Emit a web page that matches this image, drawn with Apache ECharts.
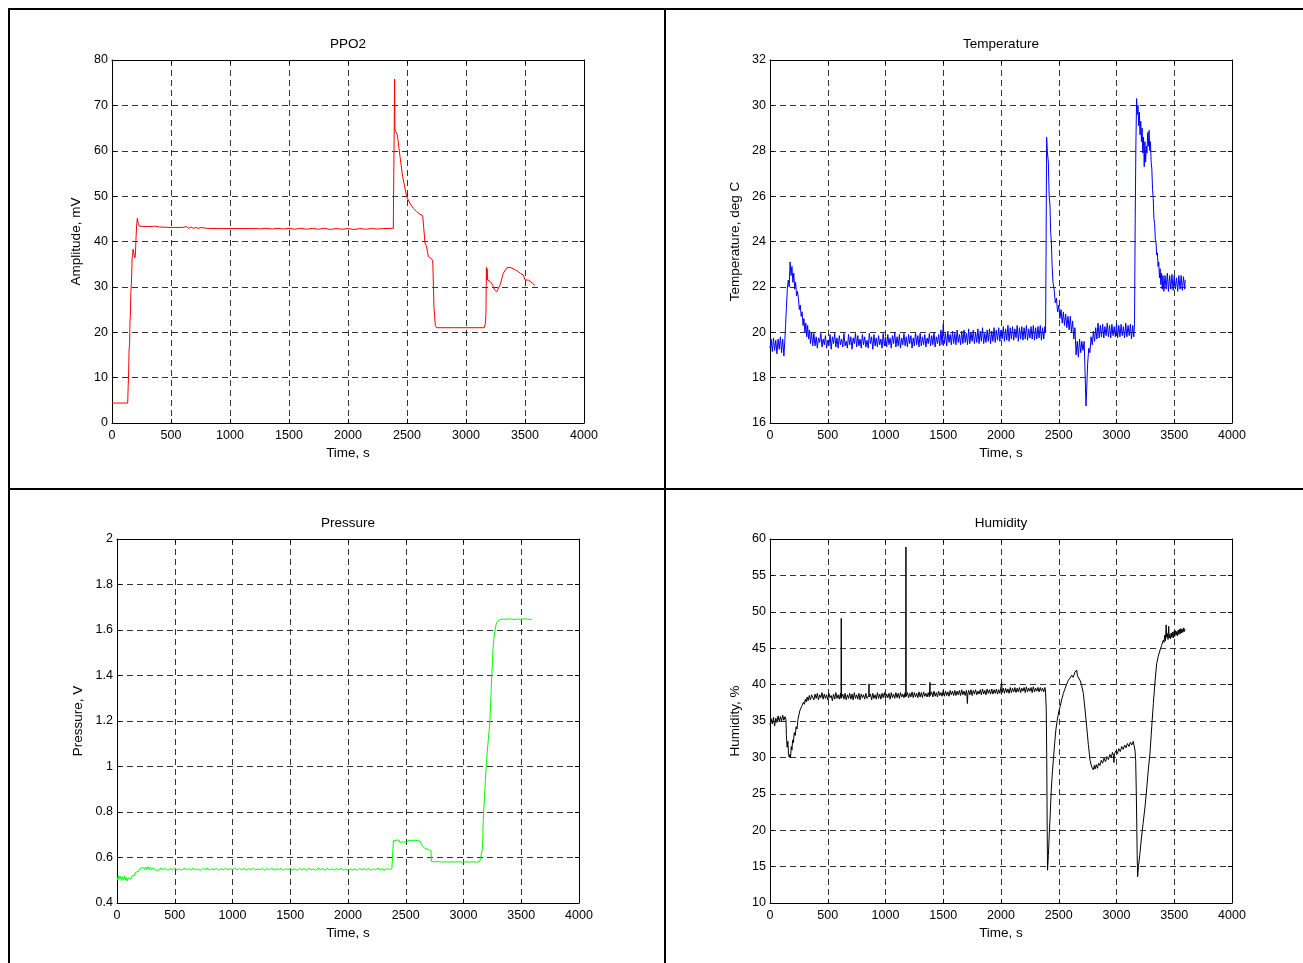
<!DOCTYPE html>
<html>
<head>
<meta charset="utf-8">
<script src="https://cdn.jsdelivr.net/npm/echarts@6/dist/echarts.min.js"></script>
<style>
html,body{margin:0;padding:0;background:#fff;}
#chart{width:1303px;height:963px;}
</style>
</head>
<body>
<div id="chart"></div>
<script>
// ---------- DATA (time in s, value) ----------
const ppo2Data = [
[0,4.4],[60,4.4],[133,4.4],[137,8],[141,11],[145,16.5],[149,17],[152,22],[156,24],[160,29],[164,30.5],[167,33],[171,36.5],[175,37],[178,38.3],[183,38.0],[188,37],[194,36.4],[198,37],[204,41],[210,44],[215,45.1],[222,44.0],[232,43.4],[260,43.3],[300,43.3],[340,43.3],[345,43.6],[350,43.1],[360,43.4],[400,43.2],[500,43.1],[600,43.1],[630,43.3],[650,42.9],[670,43.2],[690,42.9],[710,43.1],[730,42.9],[760,43.1],[800,42.9],[900,42.85],[1000,42.85],[1200,42.85],[1260,42.8],[1300,42.9],[1360,42.75],[1400,42.9],[1450,42.75],[1500,42.9],[1550,42.7],[1600,42.9],[1650,42.7],[1700,42.9],[1750,42.7],[1800,42.9],[1850,42.65],[1900,42.85],[1950,42.7],[2000,42.85],[2050,42.65],[2100,42.85],[2150,42.7],[2200,42.85],[2250,42.75],[2300,42.85],[2384,42.9],[2388,55.0],[2392,66.0],[2395,75.8],[2398,64.6],[2418,63.5],[2441,58.7],[2463,54.3],[2497,49.9],[2525,48.4],[2555,47.3],[2582,46.6],[2610,46.0],[2633,45.7],[2653,39.6],[2665,39.0],[2681,36.7],[2718,35.9],[2729,25.3],[2740,21.5],[2751,21.0],[2900,21.0],[3155,21.0],[3165,22.0],[3169,24.2],[3173,34.3],[3176,31.5],[3179,34.0],[3184,31.5],[3195,31.8],[3209,31.1],[3226,30.4],[3243,29.3],[3260,28.9],[3275,29.2],[3290,30.5],[3316,33.0],[3345,34.2],[3373,34.3],[3400,34.0],[3429,33.6],[3460,33.0],[3486,32.6],[3500,31.5],[3510,31.8],[3528,31.5],[3560,30.9],[3585,30.3]
];

const temperatureData = [
[0,19.3],[10,19.7],[20,19.15],[30,19.75],[40,19.2],[50,19.65],[60,19.05],[70,19.7],[80,19.25],[90,19.8],[100,19.1],[110,19.7],[120,18.95],[128,19.6],
[135,20.3],[142,21.1],[150,21.9],[158,22.3],[166,22.0],[174,23.1],[182,22.5],[190,22.9],[198,22.2],[206,22.6],[214,21.9],[222,22.2],[230,21.6],[238,21.8],[246,21.5],[254,21.0],[262,21.2],[270,20.7],[278,20.9],[286,20.3],[294,20.6],[302,20.0],[310,20.4],[318,19.8],[326,20.3],[334,19.7],[342,20.1],[350,19.5],[360,20.0],[370,19.4],
[380,19.95],[390,19.4],[400,19.8],[410,19.3],[420,19.75],[430,19.55],[440,19.95],[450,19.35],[460,19.7],[470,19.45],
[480,19.85],[490,19.3],[500,19.65],[510,19.4],[520,19.9],[530,19.25],[540,19.8],[550,19.5],[560,19.95],[570,19.35],
[580,19.75],[590,19.3],[600,19.85],[610,19.45],[620,19.7],[630,19.35],[640,19.95],[650,19.4],[660,19.6],[670,19.3],
[680,19.9],[690,19.45],[700,19.8],[710,19.25],[720,19.75],[730,19.5],[740,19.95],[750,19.35],[760,19.85],[770,19.4],
[780,19.7],[790,19.3],[800,19.9],[810,19.45],[820,19.8],[830,19.35],[840,19.65],[850,19.3],[860,19.95],[870,19.5],
[880,19.8],[890,19.25],[900,19.9],[910,19.4],[920,19.75],[930,19.35],[940,19.85],[950,19.45],[960,19.7],[970,19.3],
[980,19.95],[990,19.4],[1000,19.8],[1010,19.35],[1020,19.9],[1030,19.45],[1040,19.75],[1050,19.3],[1060,19.85],[1070,19.5],
[1080,20.0],[1090,19.35],[1100,19.8],[1110,19.4],[1120,19.9],[1130,19.3],[1140,19.75],[1150,19.45],[1160,19.95],[1170,19.4],
[1180,19.8],[1190,19.35],[1200,19.9],[1210,19.5],[1220,19.85],[1230,19.3],[1240,19.75],[1250,19.4],[1260,20.0],[1270,19.45],
[1280,19.85],[1290,19.35],[1300,19.95],[1310,19.4],[1320,19.8],[1330,19.45],[1340,19.9],[1350,19.35],[1360,19.75],[1370,19.5],
[1380,19.95],[1390,19.4],[1400,19.85],[1410,19.45],[1420,20.0],[1430,19.35],[1440,19.8],[1450,19.5],[1460,19.9],[1470,19.4],
[1480,20.1],[1490,19.45],[1500,20.35],[1510,19.5],[1520,19.95],[1530,19.4],[1540,20.05],[1550,19.55],[1560,19.9],[1570,19.45],
[1580,20.05],[1590,19.5],[1600,19.95],[1610,19.45],[1620,20.1],[1630,19.55],[1640,19.9],[1650,19.45],[1660,20.05],[1670,19.5],
[1680,20.1],[1690,19.55],[1700,19.95],[1710,19.45],[1720,20.15],[1730,19.5],[1740,20.0],[1750,19.6],[1760,20.1],[1770,19.5],
[1780,20.0],[1790,19.55],[1800,20.15],[1810,19.5],[1820,20.05],[1830,19.6],[1840,20.2],[1850,19.5],[1860,19.95],[1870,19.55],
[1880,20.1],[1890,19.6],[1900,20.15],[1910,19.5],[1920,20.05],[1930,19.6],[1940,20.2],[1950,19.55],[1960,20.1],[1970,19.65],
[1980,20.2],[1990,19.6],[2000,20.1],[2010,19.7],[2020,20.25],[2030,19.6],[2040,20.15],[2050,19.65],[2060,20.3],[2070,19.6],
[2080,20.2],[2090,19.7],[2100,20.25],[2110,19.65],[2120,20.15],[2130,19.75],[2140,20.3],[2150,19.6],[2160,20.2],[2170,19.7],
[2180,20.25],[2190,19.65],[2200,20.2],[2210,19.7],[2220,20.3],[2230,19.65],[2240,20.15],[2250,19.75],[2260,20.25],[2270,19.7],
[2280,20.3],[2290,19.65],[2300,20.2],[2310,19.7],[2320,20.25],[2330,19.75],[2340,20.3],[2350,19.65],[2360,20.2],[2370,19.7],[2380,20.25],
[2386,20.0],[2390,23.3],[2395,28.6],[2402,27.9],[2410,27.5],[2417,26.0],[2424,25.6],[2430,24.4],[2436,24.0],[2442,23.0],[2450,22.2],[2460,21.9],[2470,21.3],[2480,21.5],[2490,20.9],[2500,21.2],[2510,20.6],[2520,21.0],[2530,20.4],[2540,20.9],[2550,20.3],[2560,20.8],[2570,20.2],[2580,20.7],[2590,20.1],[2600,20.7],[2610,20.0],[2620,20.5],[2630,19.7],[2640,20.2],[2650,19.0],[2660,19.6],[2670,18.9],[2680,19.7],[2690,19.1],[2700,19.6],[2710,19.2],[2720,19.6],[2728,18.2],[2736,16.75],[2742,17.5],[2750,18.6],[2760,19.3],[2770,19.1],
[2780,19.8],[2790,19.45],[2800,20.05],[2810,19.6],[2820,20.2],[2830,19.7],[2840,20.4],[2850,19.75],[2860,20.3],[2870,19.8],[2880,20.35],[2890,19.75],[2900,20.25],[2910,19.85],[2920,20.4],[2930,19.8],[2940,20.3],[2950,19.75],[2960,20.35],[2970,19.85],[2980,20.25],[2990,19.8],[3000,20.4],[3010,19.75],[3020,20.3],[3030,19.8],[3040,20.35],[3050,19.85],[3060,20.25],[3070,19.75],[3080,20.4],[3090,19.8],[3100,20.3],[3110,19.85],[3120,20.35],[3130,19.7],[3140,20.3],[3150,19.8],[3156,20.4],
[3162,25.0],[3168,28.3],[3174,30.3],[3180,29.6],[3186,30.0],[3192,29.1],[3198,29.7],[3204,28.7],[3210,29.3],[3216,28.4],[3222,29.0],[3228,27.9],[3234,28.6],[3240,27.3],[3246,28.4],[3252,27.5],[3258,28.2],[3264,27.9],[3270,28.8],[3276,28.2],[3282,28.9],[3288,28.0],[3294,28.4],[3300,27.5],[3306,27.2],[3312,26.3],[3318,25.9],[3324,25.0],[3330,24.8],[3336,24.1],[3342,24.0],[3348,23.4],[3354,23.5],[3360,22.9],[3366,23.1],[3372,22.4],[3378,22.8],[3384,22.1],[3390,22.6],[3396,21.9],[3402,22.5],[3410,21.8],[3420,22.5],[3430,21.9],[3440,22.6],[3450,21.8],[3460,22.5],[3470,21.9],[3480,22.55],[3490,21.85],[3500,22.5],[3510,21.9],[3520,22.4],[3530,21.8],[3540,22.5],[3550,21.9],[3560,22.5],[3570,21.85],[3580,22.45],[3590,21.9],[3595,22.3]
];

const pressureData = [
[0,0.515],[8,0.50],[16,0.52],[24,0.505],[32,0.518],[40,0.498],[48,0.515],[56,0.503],[64,0.52],[72,0.50],[80,0.512],[88,0.497],[96,0.51],[104,0.502],[112,0.515],[120,0.505],[128,0.518],[136,0.512],[144,0.525],[152,0.522],[160,0.535],[168,0.532],[176,0.543],[184,0.538],[192,0.548],[200,0.543],[210,0.553],[220,0.546],[230,0.556],[240,0.547],[250,0.558],[260,0.548],[270,0.559],[280,0.547],[290,0.557],[300,0.546],[315,0.555],[330,0.545],[345,0.553],
[360,0.545],[380,0.553],[400,0.547],[420,0.552],[440,0.544],[460,0.551],[480,0.546],[500,0.554],[520,0.545],[540,0.550],[560,0.544],[580,0.553],[600,0.547],[620,0.551],[640,0.545],[660,0.553],[680,0.546],[700,0.550],[720,0.544],[740,0.552],[760,0.547],[780,0.553],[800,0.545],[820,0.551],[840,0.546],[860,0.552],[880,0.544],[900,0.550],[920,0.546],[940,0.553],[960,0.545],[980,0.551],[1000,0.547],[1020,0.554],[1040,0.545],[1060,0.551],[1080,0.546],[1100,0.552],[1120,0.544],[1140,0.551],[1160,0.547],[1180,0.553],[1200,0.545],[1220,0.550],[1240,0.546],[1260,0.552],[1280,0.544],[1300,0.551],[1320,0.546],[1340,0.553],[1360,0.545],[1380,0.550],[1400,0.547],[1420,0.552],[1440,0.544],[1460,0.551],[1480,0.546],[1500,0.553],[1520,0.545],[1540,0.550],[1560,0.544],[1580,0.552],[1600,0.546],[1620,0.551],[1640,0.545],[1660,0.553],[1680,0.546],[1700,0.550],[1720,0.544],[1740,0.552],[1760,0.547],[1780,0.551],[1800,0.545],[1820,0.552],[1840,0.546],[1860,0.550],[1880,0.544],[1900,0.551],[1920,0.546],[1940,0.553],[1960,0.544],[1980,0.549],[2000,0.543],[2020,0.551],[2040,0.545],[2060,0.550],[2080,0.544],[2100,0.552],[2120,0.546],[2140,0.551],[2160,0.545],[2180,0.552],[2200,0.544],[2220,0.550],[2240,0.546],[2260,0.553],[2280,0.545],[2300,0.551],[2320,0.544],[2340,0.552],[2360,0.546],[2380,0.551],[2388,0.55],
[2393,0.675],[2410,0.668],[2420,0.676],[2430,0.669],[2440,0.677],[2450,0.667],[2460,0.674],[2470,0.668],[2480,0.676],[2490,0.668],[2500,0.675],[2510,0.667],[2520,0.676],[2530,0.668],[2540,0.674],[2550,0.667],[2560,0.675],[2570,0.669],[2580,0.676],[2590,0.668],[2600,0.674],[2610,0.667],[2625,0.672],[2640,0.655],[2655,0.648],[2665,0.64],[2680,0.645],[2695,0.635],[2710,0.638],[2718,0.63],[2722,0.582],[2735,0.574],[2750,0.581],[2765,0.575],[2780,0.582],[2795,0.574],[2810,0.58],[2825,0.575],[2840,0.581],[2855,0.574],[2870,0.58],[2885,0.573],[2900,0.581],[2915,0.575],[2930,0.58],[2945,0.574],[2960,0.582],[2975,0.575],[2990,0.579],[3005,0.573],[3020,0.581],[3035,0.575],[3050,0.58],[3065,0.574],[3080,0.581],[3095,0.575],[3110,0.58],[3125,0.574],[3140,0.581],[3157,0.578],
[3165,0.64],[3171,0.765],[3185,0.9],[3200,1.03],[3215,1.12],[3229,1.2],[3243,1.38],[3257,1.527],[3265,1.57],[3273,1.6],[3283,1.625],[3293,1.637],[3305,1.642],[3316,1.645],[3330,1.64],[3345,1.648],[3360,1.641],[3375,1.647],[3390,1.64],[3405,1.649],[3420,1.641],[3435,1.646],[3450,1.64],[3465,1.648],[3480,1.641],[3495,1.647],[3510,1.64],[3525,1.649],[3540,1.642],[3555,1.648],[3570,1.641],[3590,1.646]
];

const humidityData = [
[0,34.5],[10,35.3],[20,34.6],[30,35.5],[40,34.3],[50,35.4],[60,34.8],[70,35.7],[80,34.9],[90,35.6],[100,35.0],[110,35.8],[120,35.1],[130,35.6],[138,35.2],[142,33.0],[148,31.4],[155,32.2],[160,30.6],[166,30.0],[172,30.4],[178,30.0],[184,31.5],[190,31.0],[196,32.4],[202,32.0],[210,33.4],[218,33.0],[226,34.2],[234,33.9],[242,35.2],[250,35.0],[258,36.4],[266,36.2],[274,37.0],[282,36.9],[290,37.6],[298,37.3],[306,38.0],[314,37.6],[322,38.3],[330,37.8],[340,38.5],[350,37.9],[360,38.6],
[370,38.5],[380,37.9],[390,38.7],[400,38.1],[410,38.8],[420,37.9],[430,38.6],[440,38.2],[450,38.9],[460,38.0],
[470,38.7],[480,38.1],[490,38.6],[500,37.9],[510,38.8],[520,38.2],[530,38.5],[540,37.8],[550,38.7],[560,38.0],
[570,38.9],[580,38.1],[590,38.6],[600,38.0],[610,38.8],[615,38.1],[617,49.1],[619,38.2],[630,38.7],[640,38.0],[650,38.8],[660,37.9],
[670,38.6],[680,38.1],[690,38.8],[700,38.0],[710,38.7],[720,37.9],[730,38.9],[740,38.1],[750,38.6],[760,38.0],
[770,38.8],[780,37.9],[790,38.7],[800,38.2],[810,38.6],[820,38.0],[830,38.8],[840,38.1],[850,38.0],[855,38.5],[857,40.1],[859,38.3],[870,38.7],[880,37.9],
[890,38.8],[900,38.1],[910,38.6],[920,38.0],[930,38.9],[940,38.1],[950,38.7],[960,38.0],[970,38.8],[980,38.2],
[990,38.9],[1000,38.1],[1010,38.7],[1020,38.2],[1030,38.8],[1040,38.0],[1050,38.9],[1060,38.2],[1070,38.7],[1080,38.1],
[1090,38.9],[1100,38.2],[1110,38.8],[1120,38.1],[1130,38.9],[1140,38.3],[1150,38.7],[1160,38.2],[1170,38.9],[1175,38.3],[1177,58.9],[1179,38.4],[1190,38.9],
[1200,38.2],[1210,38.8],[1220,38.3],[1230,39.0],[1240,38.2],[1250,38.9],[1260,38.3],[1270,38.8],[1280,38.2],[1290,39.0],
[1300,38.3],[1310,38.9],[1320,38.2],[1330,39.0],[1340,38.4],[1350,38.8],[1360,38.3],[1370,38.9],[1380,38.3],[1385,40.3],[1388,38.5],[1400,39.0],
[1410,38.3],[1420,39.1],[1430,38.4],[1440,38.9],[1450,38.3],[1460,39.1],[1470,38.5],[1480,38.9],[1490,38.4],[1500,39.2],
[1510,38.4],[1520,39.1],[1530,38.5],[1540,39.0],[1550,38.4],[1560,39.2],[1570,38.6],[1580,39.1],[1590,38.5],[1600,39.2],
[1610,38.5],[1620,39.1],[1630,38.6],[1640,39.2],[1650,38.5],[1660,39.3],[1670,38.6],[1680,39.1],[1690,38.5],[1700,39.2],[1705,38.6],[1709,37.4],[1713,38.7],
[1720,39.2],[1730,38.6],[1740,39.3],[1750,38.5],[1760,39.2],[1770,38.7],[1780,39.3],[1790,38.6],[1800,39.1],[1810,38.7],
[1820,39.3],[1830,38.6],[1840,39.4],[1850,38.7],[1860,39.2],[1870,38.6],[1880,39.4],[1890,38.8],[1900,39.3],[1910,38.7],
[1920,39.4],[1930,38.7],[1940,39.3],[1950,38.8],[1960,39.4],[1970,38.7],[1980,39.3],[1990,38.8],[2000,38.9],[2006,40.3],[2010,38.9],[2020,39.5],
[2030,38.8],[2040,39.5],[2050,38.9],[2060,39.4],[2070,38.8],[2080,39.6],[2090,38.9],[2100,39.5],[2110,39.0],[2120,39.6],
[2130,38.9],[2140,39.5],[2150,39.0],[2160,39.6],[2170,38.9],[2180,39.5],[2190,39.1],[2200,39.6],[2210,38.9],[2220,39.7],
[2230,39.0],[2240,39.5],[2250,39.1],[2260,39.6],[2270,38.9],[2280,39.7],[2290,39.0],[2300,39.5],[2310,39.1],[2320,39.6],
[2330,39.0],[2340,39.6],[2350,39.1],[2360,39.5],[2370,39.0],[2380,39.6],[2385,39.3],
[2392,36.5],[2396,30.0],[2400,20.0],[2403,14.5],[2410,16.5],[2418,19.5],[2424,21.4],[2435,25.5],[2445,28.0],[2453,29.6],[2465,32.0],[2475,33.8],[2487,35.1],[2500,36.3],[2512,37.0],[2525,37.9],[2540,38.8],[2555,39.5],[2570,40.1],[2583,40.6],[2598,40.9],[2612,41.3],[2625,41.0],[2640,41.7],[2648,41.5],[2655,42.0],[2662,41.2],[2670,41.0],[2684,40.6],[2698,39.9],[2713,38.8],[2728,36.5],[2742,34.2],[2756,31.8],[2771,29.6],[2785,28.7],[2799,28.3],[2808,28.9],[2815,28.4],[2825,29.0],[2835,28.5],[2845,29.2],[2857,28.9],[2868,29.6],[2880,29.2],[2892,29.9],[2905,29.4],[2917,30.1],[2930,29.7],[2942,30.4],[2955,30.0],[2965,30.7],[2973,30.3],[2978,29.3],[2982,30.5],[2995,30.9],[3008,30.5],[3020,31.2],[3033,30.8],[3045,31.5],[3058,31.1],[3070,31.7],[3082,31.3],[3095,31.9],[3108,31.5],[3120,32.1],[3132,31.7],[3145,32.2],[3152,32.0],
[3160,31.0],[3166,29.6],[3171,25.5],[3175,21.4],[3179,16.5],[3183,13.6],[3190,15.0],[3203,16.8],[3215,18.8],[3230,20.9],[3247,23.2],[3262,25.8],[3276,28.4],[3290,30.6],[3305,34.2],[3319,37.4],[3334,40.5],[3348,42.9],[3362,43.9],[3377,44.75],[3391,45.4],[3405,46.1],[3412,45.8],[3418,46.8],[3424,46.0],[3430,48.2],[3434,46.5],[3440,47.0],[3446,46.2],[3452,48.0],[3456,46.4],[3462,46.9],[3468,46.3],[3474,47.1],[3480,46.5],[3486,47.2],[3492,46.4],[3498,47.3],[3504,46.6],[3510,47.4],[3516,46.8],[3522,47.3],[3528,46.7],[3534,47.5],[3540,46.9],[3546,47.6],[3552,47.0],[3558,47.7],[3564,47.1],[3570,47.6],[3576,47.2],[3582,47.8],[3588,47.3],[3593,47.6]
];

const panelTitles = ['PPO2', 'Temperature', 'Pressure', 'Humidity'];
const yAxisNames = ['Amplitude, mV', 'Temperature, deg C', 'Pressure, V', 'Humidity, %'];
const xAxisName = 'Time, s';
const xRange = [0, 4000, 500];
const yRanges = [[0, 80, 10], [16, 32, 2], [0.4, 2, 0.2], [10, 60, 5]];

// ---------- LAYOUT / STYLE ----------
const FONT = "'Liberation Sans', Arial, Helvetica, sans-serif";
const grids = [
  {left: 112, top: 60, width: 472, height: 363},
  {left: 770, top: 60, width: 462, height: 363},
  {left: 117, top: 539, width: 462, height: 364},
  {left: 770, top: 539, width: 462, height: 364}
];
const colors = ['#ff0000', '#0000ff', '#00ff00', '#000000'];
const seriesData = [ppo2Data, temperatureData, pressureData, humidityData];
const yNameGaps = [29, 28, 32, 28];

const gridLine = {show: true, lineStyle: {color: '#333', width: 1, type: [6, 4]}};
const axisLineS = {show: true, onZero: false, lineStyle: {color: '#000', width: 1}};
const tickS = {show: true, inside: true, length: 4, lineStyle: {color: '#000'}};
const labelS = {fontSize: 12.5, color: '#000', fontFamily: FONT, showMinLabel: true, showMaxLabel: true,
  formatter: v => String(v)};
const nameStyle = {fontSize: 13.5, color: '#000', fontFamily: FONT};

const xAxes = [], yAxes = [], series = [], titles = [];
grids.forEach((g, i) => {
  const [ymin, ymax, yint] = yRanges[i];
  xAxes.push({gridIndex: i, type: 'value', position: 'bottom', min: xRange[0], max: xRange[1], interval: xRange[2],
    name: xAxisName, nameLocation: 'middle', nameGap: 23, nameTextStyle: nameStyle,
    axisLine: axisLineS, axisTick: tickS, axisLabel: Object.assign({margin: 6}, labelS), splitLine: gridLine});
  xAxes.push({gridIndex: i, type: 'value', position: 'top', min: xRange[0], max: xRange[1], interval: xRange[2],
    axisLine: axisLineS, axisTick: tickS, axisLabel: {show: false}, splitLine: {show: false}});
  yAxes.push({gridIndex: i, type: 'value', position: 'left', min: ymin, max: ymax, interval: yint,
    name: yAxisNames[i], nameLocation: 'middle', nameGap: yNameGaps[i], nameRotate: 90, nameTextStyle: nameStyle,
    axisLine: axisLineS, axisTick: tickS, axisLabel: Object.assign({margin: 4}, labelS), splitLine: gridLine});
  yAxes.push({gridIndex: i, type: 'value', position: 'right', min: ymin, max: ymax, interval: yint,
    axisLine: axisLineS, axisTick: tickS, axisLabel: {show: false}, splitLine: {show: false}});
  series.push({type: 'line', xAxisIndex: 2 * i, yAxisIndex: 2 * i, data: seriesData[i],
    showSymbol: false, symbol: 'none', lineStyle: {color: colors[i], width: 1}, itemStyle: {color: colors[i]},
    silent: true, clip: true});
  titles.push({text: panelTitles[i], left: g.left + g.width / 2, top: g.top - 23, textAlign: 'center', padding: 0,
    textStyle: {fontSize: 13.5, fontWeight: 'normal', color: '#000', fontFamily: FONT}});
});

const border = {stroke: '#000', lineWidth: 2};
const option = {
  animation: false,
  backgroundColor: '#fff',
  title: titles,
  grid: grids,
  xAxis: xAxes,
  yAxis: yAxes,
  series: series,
  graphic: [
    {type: 'line', shape: {x1: 8, y1: 9, x2: 1303, y2: 9}, style: border, silent: true},
    {type: 'line', shape: {x1: 9, y1: 8, x2: 9, y2: 963}, style: border, silent: true},
    {type: 'line', shape: {x1: 665, y1: 8, x2: 665, y2: 963}, style: border, silent: true},
    {type: 'line', shape: {x1: 8, y1: 489, x2: 1303, y2: 489}, style: border, silent: true}
  ]
};
const chart = echarts.init(document.getElementById('chart'), null, {renderer: 'canvas'});
chart.setOption(option);
</script>
</body>
</html>
